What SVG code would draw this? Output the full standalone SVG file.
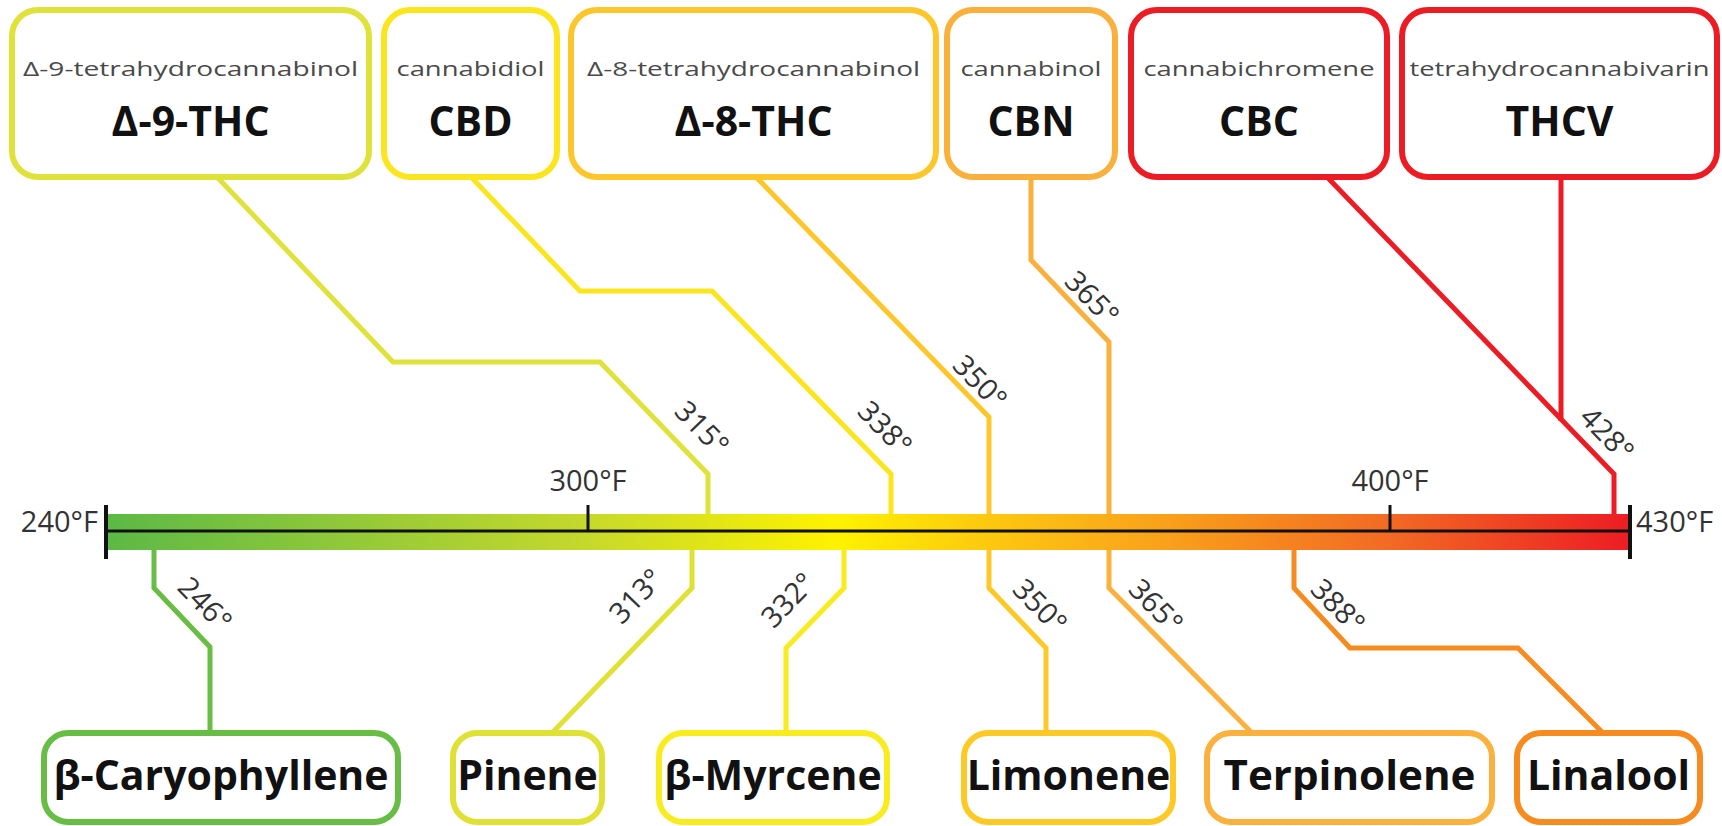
<svg xmlns="http://www.w3.org/2000/svg" width="1722" height="826" viewBox="0 0 1722 826">
<defs>
<linearGradient id="bar" gradientUnits="userSpaceOnUse" x1="106" y1="0" x2="1630" y2="0">
<stop offset="0" stop-color="#5cb946"/>
<stop offset="0.31" stop-color="#c4d82c"/>
<stop offset="0.48" stop-color="#fff200"/>
<stop offset="0.58" stop-color="#fdc80f"/>
<stop offset="0.66" stop-color="#fbad18"/>
<stop offset="0.84" stop-color="#f26b23"/>
<stop offset="1" stop-color="#ed1c24"/>
</linearGradient>
<style>
.box{fill:#fff;stroke-width:6}
.sm{font-family:"Open Sans","Liberation Sans",sans-serif;font-size:20px;fill:#4a4a4a;text-anchor:middle}
.big{font-family:"Open Sans","Liberation Sans",sans-serif;font-size:41px;font-weight:bold;fill:#111;text-anchor:middle}
.lbl{font-family:"Open Sans","Liberation Sans",sans-serif;font-size:29px;fill:#333;text-anchor:middle}
.deg{font-family:"Open Sans","Liberation Sans",sans-serif;font-size:29px;fill:#333;text-anchor:middle}
.con{fill:none;stroke-width:5;stroke-linejoin:miter}
.tick{stroke:#111;fill:none}
</style>
</defs>
<rect width="1722" height="826" fill="#fff"/>

<g id="connectors">
<path class="con" stroke="#dfe23a" d="M218,178 L393,362 L600,362 L708,474 L708,516"/>
<path class="con" stroke="#fae51e" d="M472,178 L580,291 L712,291 L891,474 L891,516"/>
<path class="con" stroke="#fdc72c" d="M757,178 L989,417 L989,516"/>
<path class="con" stroke="#fab03c" d="M1031,178 L1031,260 L1109,342 L1109,516"/>
<path class="con" stroke="#ec1c24" d="M1328,178 L1614,474 L1614,516"/>
<path class="con" stroke="#ec1c24" d="M1561,178 L1561,421"/>
<path class="con" stroke="#68bd45" d="M154,548 L154,588 L210,647 L210,733"/>
<path class="con" stroke="#dfe135" d="M692,548 L692,588 L552,733"/>
<path class="con" stroke="#f8ec1f" d="M844,548 L844,588 L786,648 L786,733"/>
<path class="con" stroke="#fdc926" d="M989,548 L989,588 L1046,648 L1046,733"/>
<path class="con" stroke="#fbb13d" d="M1109,548 L1109,588 L1252,733"/>
<path class="con" stroke="#f68b1f" d="M1294,548 L1294,588 L1350,648 L1518,648 L1603,733"/>
</g>

<g id="scale">
<rect x="106" y="514" width="1524" height="36" fill="url(#bar)"/>
<line class="tick" x1="106" y1="531" x2="1630" y2="531" stroke-width="3"/>
<line class="tick" x1="106" y1="505" x2="106" y2="559" stroke-width="4"/>
<line class="tick" x1="1630" y1="505" x2="1630" y2="559" stroke-width="4"/>
<line class="tick" x1="588" y1="505" x2="588" y2="531" stroke-width="3"/>
<line class="tick" x1="1390" y1="505" x2="1390" y2="531" stroke-width="3"/>
<text class="lbl" x="98" y="532" style="text-anchor:end">240°F</text>
<text class="lbl" x="1636" y="532" style="text-anchor:start">430°F</text>
<text class="lbl" x="588" y="491">300°F</text>
<text class="lbl" x="1390" y="491">400°F</text>
</g>

<g id="degree-labels">
<text class="deg" transform="translate(702,428) rotate(46)" dy="0.35em">315°</text>
<text class="deg" transform="translate(885,428) rotate(46)" dy="0.35em">338°</text>
<text class="deg" transform="translate(980,382) rotate(46)" dy="0.35em">350°</text>
<text class="deg" transform="translate(1092,298) rotate(46)" dy="0.35em">365°</text>
<text class="deg" transform="translate(1607,434) rotate(46)" dy="0.35em">428°</text>
<text class="deg" transform="translate(205,604) rotate(46)" dy="0.35em">246°</text>
<text class="deg" transform="translate(636,596) rotate(-46)" dy="0.35em">313°</text>
<text class="deg" transform="translate(788,600) rotate(-46)" dy="0.35em">332°</text>
<text class="deg" transform="translate(1040,606) rotate(46)" dy="0.35em">350°</text>
<text class="deg" transform="translate(1156,606) rotate(46)" dy="0.35em">365°</text>
<text class="deg" transform="translate(1338,606) rotate(46)" dy="0.35em">388°</text>
</g>

<g id="d9thc">
<rect class="box" x="12" y="10" width="357" height="167" rx="26" stroke="#dfe23a"/>
<text class="sm" x="190.5" y="76" textLength="335" lengthAdjust="spacingAndGlyphs">Δ-9-tetrahydrocannabinol</text>
<text class="big" x="190.5" y="136">Δ-9-THC</text>
</g>
<g id="cbd">
<rect class="box" x="384" y="10" width="173" height="167" rx="26" stroke="#fae51e"/>
<text class="sm" x="470.5" y="76" textLength="148" lengthAdjust="spacingAndGlyphs">cannabidiol</text>
<text class="big" x="470.5" y="136">CBD</text>
</g>
<g id="d8thc">
<rect class="box" x="571" y="10" width="365" height="167" rx="26" stroke="#fdc72c"/>
<text class="sm" x="753.5" y="76" textLength="333" lengthAdjust="spacingAndGlyphs">Δ-8-tetrahydrocannabinol</text>
<text class="big" x="753.5" y="136">Δ-8-THC</text>
</g>
<g id="cbn">
<rect class="box" x="947" y="10" width="168" height="167" rx="26" stroke="#fab03c"/>
<text class="sm" x="1031" y="76" textLength="141" lengthAdjust="spacingAndGlyphs">cannabinol</text>
<text class="big" x="1031" y="136">CBN</text>
</g>
<g id="cbc">
<rect class="box" x="1131" y="10" width="256" height="167" rx="26" stroke="#ec1c24"/>
<text class="sm" x="1259" y="76" textLength="231" lengthAdjust="spacingAndGlyphs">cannabichromene</text>
<text class="big" x="1259" y="136">CBC</text>
</g>
<g id="thcv">
<rect class="box" x="1402" y="10" width="315" height="167" rx="26" stroke="#ec1c24"/>
<text class="sm" x="1559.5" y="76" textLength="300" lengthAdjust="spacingAndGlyphs">tetrahydrocannabivarin</text>
<text class="big" x="1559.5" y="136">THCV</text>
</g>

<g id="caryophyllene">
<rect class="box" x="44" y="733" width="354" height="89" rx="24" stroke="#68bd45"/>
<text class="big" x="221" y="790">β-Caryophyllene</text>
</g>
<g id="pinene">
<rect class="box" x="453" y="733" width="149" height="89" rx="24" stroke="#dfe135"/>
<text class="big" x="527.5" y="790">Pinene</text>
</g>
<g id="myrcene">
<rect class="box" x="659" y="733" width="228" height="89" rx="24" stroke="#f8ec1f"/>
<text class="big" x="773" y="790">β-Myrcene</text>
</g>
<g id="limonene">
<rect class="box" x="964" y="733" width="209" height="89" rx="24" stroke="#fdc926"/>
<text class="big" x="1068.5" y="790">Limonene</text>
</g>
<g id="terpinolene">
<rect class="box" x="1207" y="733" width="285" height="89" rx="24" stroke="#fbb13d"/>
<text class="big" x="1349.5" y="790" textLength="252" lengthAdjust="spacingAndGlyphs">Terpinolene</text>
</g>
<g id="linalool">
<rect class="box" x="1517" y="733" width="183" height="89" rx="24" stroke="#f68b1f"/>
<text class="big" x="1608.5" y="790">Linalool</text>
</g>
</svg>
